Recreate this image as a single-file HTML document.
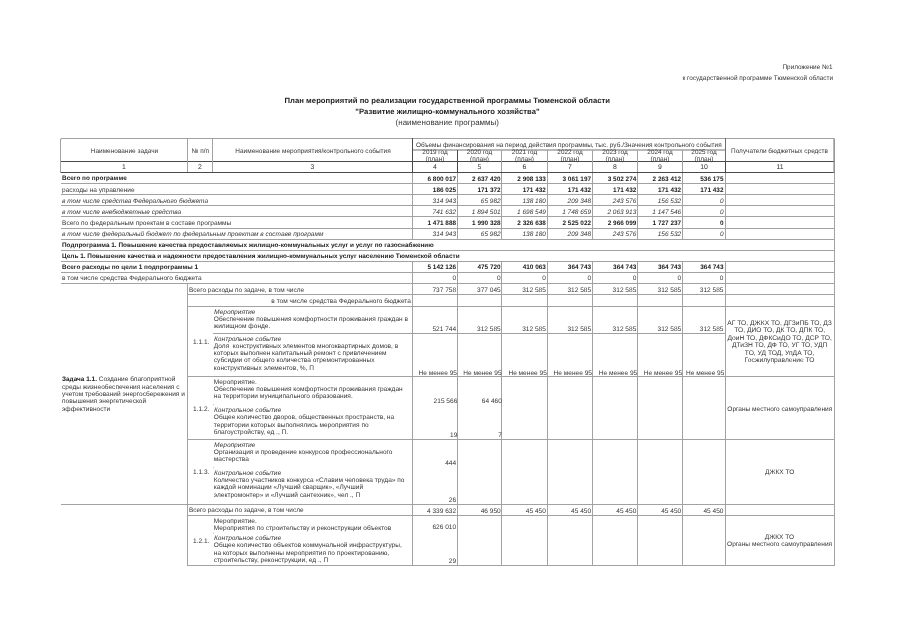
<!DOCTYPE html>
<html lang="ru"><head><meta charset="utf-8"><title>План мероприятий по реализации государственной программы</title>
<style>
html,body{margin:0;padding:0;background:#fff;overflow:hidden;}
body{width:905px;height:640px;position:relative;overflow:hidden;}
#pg{overflow:hidden;text-rendering:geometricPrecision;will-change:transform;position:absolute;left:0;top:0;width:9050px;height:6400px;transform:scale(0.1);transform-origin:0 0;font-family:"Liberation Sans",Arial,sans-serif;color:#353535;}
#pg i{position:absolute;display:block;}
#pg p{position:absolute;margin:0;white-space:pre;line-height:100px;}
.b,b{font-weight:bold;color:#1c1c1c;} .i{font-style:italic;} .o{transform:skewX(-11deg);transform-origin:0 72%;}
b{font-size:64.3px;}
</style></head><body><div id="pg">
<i style="left:610px;top:1380px;width:7730px;height:10px;background:#a2a2a2"></i>
<i style="left:4130px;top:1492px;width:3120px;height:16px;background:#a8a8a8"></i>
<i style="left:600px;top:1610px;width:7749px;height:10px;background:#4a4a4a"></i>
<i style="left:600px;top:1720px;width:7749px;height:10px;background:#4a4a4a"></i>
<i style="left:600px;top:1390px;width:10px;height:340px;background:#a2a2a2"></i>
<i style="left:602px;top:1386px;width:12px;height:12px;background:#a2a2a2"></i>
<i style="left:1870px;top:1390px;width:10px;height:330px;background:#a2a2a2"></i>
<i style="left:2120px;top:1390px;width:10px;height:330px;background:#a2a2a2"></i>
<i style="left:4120px;top:1380px;width:10px;height:350px;background:#4a4a4a"></i>
<i style="left:4570px;top:1500px;width:10px;height:230px;background:#4a4a4a"></i>
<i style="left:5010px;top:1500px;width:10px;height:220px;background:#a2a2a2"></i>
<i style="left:5470px;top:1500px;width:10px;height:220px;background:#a2a2a2"></i>
<i style="left:5920px;top:1500px;width:10px;height:220px;background:#a2a2a2"></i>
<i style="left:6370px;top:1500px;width:10px;height:220px;background:#a2a2a2"></i>
<i style="left:6820px;top:1500px;width:10px;height:220px;background:#a2a2a2"></i>
<i style="left:7250px;top:1380px;width:10px;height:230px;background:#6e6e6e"></i>
<i style="left:7250px;top:1610px;width:10px;height:120px;background:#4a4a4a"></i>
<i style="left:8334px;top:1384px;width:15px;height:346px;background:#8c8c8c"></i>
<p style="top:1455px;font-size:64.7px;left:-755px;width:4000px;text-align:center;">Наименование задачи</p>
<p style="top:1455px;font-size:64.7px;left:3px;width:4000px;text-align:center;">№ п/п</p>
<p style="top:1455px;font-size:64.7px;left:1130px;width:4000px;text-align:center;">Наименование мероприятия/контрольного события</p>
<p style="top:1398px;font-size:64.7px;left:3688px;width:4000px;text-align:center;">Объемы финансирования на период действия программы, тыс. руб./Значения контрольного события</p>
<p style="top:1468px;font-size:64.0px;left:2350px;width:4000px;text-align:center;">2019 год</p>
<p style="top:1540px;font-size:65.6px;left:2350px;width:4000px;text-align:center;">(план)</p>
<p style="top:1468px;font-size:64.0px;left:2795px;width:4000px;text-align:center;">2020 год</p>
<p style="top:1540px;font-size:65.6px;left:2795px;width:4000px;text-align:center;">(план)</p>
<p style="top:1468px;font-size:64.0px;left:3245px;width:4000px;text-align:center;">2021 год</p>
<p style="top:1540px;font-size:65.6px;left:3245px;width:4000px;text-align:center;">(план)</p>
<p style="top:1468px;font-size:64.0px;left:3700px;width:4000px;text-align:center;">2022 год</p>
<p style="top:1540px;font-size:65.6px;left:3700px;width:4000px;text-align:center;">(план)</p>
<p style="top:1468px;font-size:64.0px;left:4150px;width:4000px;text-align:center;">2023 год</p>
<p style="top:1540px;font-size:65.6px;left:4150px;width:4000px;text-align:center;">(план)</p>
<p style="top:1468px;font-size:64.0px;left:4600px;width:4000px;text-align:center;">2024 год</p>
<p style="top:1540px;font-size:65.6px;left:4600px;width:4000px;text-align:center;">(план)</p>
<p style="top:1468px;font-size:64.0px;left:5040px;width:4000px;text-align:center;">2025 год</p>
<p style="top:1540px;font-size:65.6px;left:5040px;width:4000px;text-align:center;">(план)</p>
<p style="top:1454px;font-size:64.5px;left:5795px;width:4000px;text-align:center;">Получатели бюджетных средств</p>
<p style="top:1616px;font-size:69.0px;left:-760px;width:4000px;text-align:center;">1</p>
<p style="top:1616px;font-size:69.0px;left:0px;width:4000px;text-align:center;">2</p>
<p style="top:1616px;font-size:69.0px;left:1125px;width:4000px;text-align:center;">3</p>
<p style="top:1616px;font-size:69.0px;left:2350px;width:4000px;text-align:center;">4</p>
<p style="top:1616px;font-size:69.0px;left:2795px;width:4000px;text-align:center;">5</p>
<p style="top:1616px;font-size:69.0px;left:3245px;width:4000px;text-align:center;">6</p>
<p style="top:1616px;font-size:69.0px;left:3700px;width:4000px;text-align:center;">7</p>
<p style="top:1616px;font-size:69.0px;left:4150px;width:4000px;text-align:center;">8</p>
<p style="top:1616px;font-size:69.0px;left:4600px;width:4000px;text-align:center;">9</p>
<p style="top:1616px;font-size:69.0px;left:5040px;width:4000px;text-align:center;">10</p>
<p style="top:1616px;font-size:69.0px;left:5800px;width:4000px;text-align:center;">11</p>
<i style="left:610px;top:1830px;width:7740px;height:10px;background:#a2a2a2"></i>
<p class="b" style="top:1731px;font-size:64.3px;left:620px;">Всего по программе</p>
<p class="b" style="top:1738px;font-size:64.3px;right:4489px;">6 800 017</p>
<p class="b" style="top:1738px;font-size:64.3px;right:4043px;">2 637 420</p>
<p class="b" style="top:1738px;font-size:64.3px;right:3591px;">2 908 133</p>
<p class="b" style="top:1738px;font-size:64.3px;right:3139px;">3 061 197</p>
<p class="b" style="top:1738px;font-size:64.3px;right:2687px;">3 502 274</p>
<p class="b" style="top:1738px;font-size:64.3px;right:2238px;">2 263 412</p>
<p class="b" style="top:1738px;font-size:64.3px;right:1815px;">536 175</p>
<i style="left:4120px;top:1730px;width:10px;height:100px;background:#a2a2a2"></i>
<i style="left:4570px;top:1730px;width:10px;height:100px;background:#a2a2a2"></i>
<i style="left:5010px;top:1730px;width:10px;height:100px;background:#a2a2a2"></i>
<i style="left:5470px;top:1730px;width:10px;height:100px;background:#a2a2a2"></i>
<i style="left:5920px;top:1730px;width:10px;height:100px;background:#a2a2a2"></i>
<i style="left:6370px;top:1730px;width:10px;height:100px;background:#a2a2a2"></i>
<i style="left:6820px;top:1730px;width:10px;height:100px;background:#a2a2a2"></i>
<i style="left:7250px;top:1730px;width:10px;height:100px;background:#a2a2a2"></i>
<i style="left:8340px;top:1730px;width:10px;height:110px;background:#a2a2a2"></i>
<i style="left:610px;top:1940px;width:7740px;height:10px;background:#a2a2a2"></i>
<p style="top:1848px;font-size:65.6px;left:620px;">расходы на управление</p>
<p class="b" style="top:1848px;font-size:64.3px;right:4489px;">186 025</p>
<p class="b" style="top:1848px;font-size:64.3px;right:4043px;">171 372</p>
<p class="b" style="top:1848px;font-size:64.3px;right:3591px;">171 432</p>
<p class="b" style="top:1848px;font-size:64.3px;right:3139px;">171 432</p>
<p class="b" style="top:1848px;font-size:64.3px;right:2687px;">171 432</p>
<p class="b" style="top:1848px;font-size:64.3px;right:2238px;">171 432</p>
<p class="b" style="top:1848px;font-size:64.3px;right:1815px;">171 432</p>
<i style="left:4120px;top:1840px;width:10px;height:100px;background:#a2a2a2"></i>
<i style="left:4570px;top:1840px;width:10px;height:100px;background:#a2a2a2"></i>
<i style="left:5010px;top:1840px;width:10px;height:100px;background:#a2a2a2"></i>
<i style="left:5470px;top:1840px;width:10px;height:100px;background:#a2a2a2"></i>
<i style="left:5920px;top:1840px;width:10px;height:100px;background:#a2a2a2"></i>
<i style="left:6370px;top:1840px;width:10px;height:100px;background:#a2a2a2"></i>
<i style="left:6820px;top:1840px;width:10px;height:100px;background:#a2a2a2"></i>
<i style="left:7250px;top:1840px;width:10px;height:100px;background:#a2a2a2"></i>
<i style="left:8340px;top:1840px;width:10px;height:110px;background:#a2a2a2"></i>
<i style="left:610px;top:2050px;width:7740px;height:10px;background:#a2a2a2"></i>
<p class="i" style="top:1959px;font-size:65.0px;left:620px;">в том числе средства Федерального бюджета</p>
<p class="i" style="top:1959px;font-size:65.0px;right:4489px;">314 943</p>
<p class="i" style="top:1959px;font-size:65.0px;right:4043px;">65 982</p>
<p class="i" style="top:1959px;font-size:65.0px;right:3591px;">138 180</p>
<p class="i" style="top:1959px;font-size:65.0px;right:3139px;">209 348</p>
<p class="i" style="top:1959px;font-size:65.0px;right:2687px;">243 576</p>
<p class="i" style="top:1959px;font-size:65.0px;right:2238px;">156 532</p>
<p class="i" style="top:1959px;font-size:65.0px;right:1815px;">0</p>
<i style="left:4120px;top:1950px;width:10px;height:100px;background:#a2a2a2"></i>
<i style="left:4570px;top:1950px;width:10px;height:100px;background:#a2a2a2"></i>
<i style="left:5010px;top:1950px;width:10px;height:100px;background:#a2a2a2"></i>
<i style="left:5470px;top:1950px;width:10px;height:100px;background:#a2a2a2"></i>
<i style="left:5920px;top:1950px;width:10px;height:100px;background:#a2a2a2"></i>
<i style="left:6370px;top:1950px;width:10px;height:100px;background:#a2a2a2"></i>
<i style="left:6820px;top:1950px;width:10px;height:100px;background:#a2a2a2"></i>
<i style="left:7250px;top:1950px;width:10px;height:100px;background:#a2a2a2"></i>
<i style="left:8340px;top:1950px;width:10px;height:110px;background:#a2a2a2"></i>
<i style="left:610px;top:2160px;width:7740px;height:10px;background:#a2a2a2"></i>
<p class="i" style="top:2069px;font-size:65.0px;left:620px;">в том числе внебюджетные средства</p>
<p class="i" style="top:2069px;font-size:65.0px;right:4489px;">741 632</p>
<p class="i" style="top:2069px;font-size:65.0px;right:4043px;">1 894 501</p>
<p class="i" style="top:2069px;font-size:65.0px;right:3591px;">1 698 549</p>
<p class="i" style="top:2069px;font-size:65.0px;right:3139px;">1 748 659</p>
<p class="i" style="top:2069px;font-size:65.0px;right:2687px;">2 063 913</p>
<p class="i" style="top:2069px;font-size:65.0px;right:2238px;">1 147 546</p>
<p class="i" style="top:2069px;font-size:65.0px;right:1815px;">0</p>
<i style="left:4120px;top:2060px;width:10px;height:100px;background:#a2a2a2"></i>
<i style="left:4570px;top:2060px;width:10px;height:100px;background:#a2a2a2"></i>
<i style="left:5010px;top:2060px;width:10px;height:100px;background:#a2a2a2"></i>
<i style="left:5470px;top:2060px;width:10px;height:100px;background:#a2a2a2"></i>
<i style="left:5920px;top:2060px;width:10px;height:100px;background:#a2a2a2"></i>
<i style="left:6370px;top:2060px;width:10px;height:100px;background:#a2a2a2"></i>
<i style="left:6820px;top:2060px;width:10px;height:100px;background:#a2a2a2"></i>
<i style="left:7250px;top:2060px;width:10px;height:100px;background:#a2a2a2"></i>
<i style="left:8340px;top:2060px;width:10px;height:110px;background:#a2a2a2"></i>
<i style="left:610px;top:2280px;width:7740px;height:10px;background:#a2a2a2"></i>
<p style="top:2179px;font-size:65.6px;left:620px;">Всего по федеральным проектам в составе программы</p>
<p class="b" style="top:2180px;font-size:64.3px;right:4489px;">1 471 888</p>
<p class="b" style="top:2180px;font-size:64.3px;right:4043px;">1 990 328</p>
<p class="b" style="top:2180px;font-size:64.3px;right:3591px;">2 326 638</p>
<p class="b" style="top:2180px;font-size:64.3px;right:3139px;">2 525 022</p>
<p class="b" style="top:2180px;font-size:64.3px;right:2687px;">2 966 099</p>
<p class="b" style="top:2180px;font-size:64.3px;right:2238px;">1 727 237</p>
<p class="b" style="top:2180px;font-size:64.3px;right:1815px;">0</p>
<i style="left:4120px;top:2170px;width:10px;height:110px;background:#a2a2a2"></i>
<i style="left:4570px;top:2170px;width:10px;height:110px;background:#a2a2a2"></i>
<i style="left:5010px;top:2170px;width:10px;height:110px;background:#a2a2a2"></i>
<i style="left:5470px;top:2170px;width:10px;height:110px;background:#a2a2a2"></i>
<i style="left:5920px;top:2170px;width:10px;height:110px;background:#a2a2a2"></i>
<i style="left:6370px;top:2170px;width:10px;height:110px;background:#a2a2a2"></i>
<i style="left:6820px;top:2170px;width:10px;height:110px;background:#a2a2a2"></i>
<i style="left:7250px;top:2170px;width:10px;height:110px;background:#a2a2a2"></i>
<i style="left:8340px;top:2170px;width:10px;height:120px;background:#a2a2a2"></i>
<i style="left:610px;top:2390px;width:7740px;height:10px;background:#a2a2a2"></i>
<p class="i" style="top:2290px;font-size:65.0px;left:620px;">в том числе федеральный бюджет по федеральным проектам в составе программ</p>
<p class="i" style="top:2290px;font-size:65.0px;right:4489px;">314 943</p>
<p class="i" style="top:2290px;font-size:65.0px;right:4043px;">65 982</p>
<p class="i" style="top:2290px;font-size:65.0px;right:3591px;">138 180</p>
<p class="i" style="top:2290px;font-size:65.0px;right:3139px;">209 348</p>
<p class="i" style="top:2290px;font-size:65.0px;right:2687px;">243 576</p>
<p class="i" style="top:2290px;font-size:65.0px;right:2238px;">156 532</p>
<p class="i" style="top:2290px;font-size:65.0px;right:1815px;">0</p>
<i style="left:4120px;top:2290px;width:10px;height:100px;background:#a2a2a2"></i>
<i style="left:4570px;top:2290px;width:10px;height:100px;background:#a2a2a2"></i>
<i style="left:5010px;top:2290px;width:10px;height:100px;background:#a2a2a2"></i>
<i style="left:5470px;top:2290px;width:10px;height:100px;background:#a2a2a2"></i>
<i style="left:5920px;top:2290px;width:10px;height:100px;background:#a2a2a2"></i>
<i style="left:6370px;top:2290px;width:10px;height:100px;background:#a2a2a2"></i>
<i style="left:6820px;top:2290px;width:10px;height:100px;background:#a2a2a2"></i>
<i style="left:7250px;top:2290px;width:10px;height:100px;background:#a2a2a2"></i>
<i style="left:8340px;top:2290px;width:10px;height:110px;background:#a2a2a2"></i>
<i style="left:610px;top:2500px;width:7740px;height:10px;background:#a2a2a2"></i>
<p class="b" style="top:2401px;font-size:64.3px;left:620px;">Подпрограмма 1. Повышение качества предоставляемых жилищно-коммунальных услуг и услуг по газоснабжению</p>
<i style="left:8340px;top:2400px;width:10px;height:110px;background:#a2a2a2"></i>
<i style="left:610px;top:2610px;width:7740px;height:10px;background:#a2a2a2"></i>
<p class="b" style="top:2512px;font-size:64.3px;left:620px;">Цель 1. Повышение качества и надежности предоставления жилищно-коммунальных услуг населению Тюменской области</p>
<i style="left:8340px;top:2510px;width:10px;height:110px;background:#a2a2a2"></i>
<i style="left:610px;top:2720px;width:7740px;height:10px;background:#a2a2a2"></i>
<p class="b" style="top:2622px;font-size:64.3px;left:620px;">Всего расходы по цели 1 подпрограммы 1</p>
<p class="b" style="top:2622px;font-size:64.3px;right:4489px;">5 142 126</p>
<p class="b" style="top:2622px;font-size:64.3px;right:4043px;">475 720</p>
<p class="b" style="top:2622px;font-size:64.3px;right:3591px;">410 063</p>
<p class="b" style="top:2622px;font-size:64.3px;right:3139px;">364 743</p>
<p class="b" style="top:2622px;font-size:64.3px;right:2687px;">364 743</p>
<p class="b" style="top:2622px;font-size:64.3px;right:2238px;">364 743</p>
<p class="b" style="top:2622px;font-size:64.3px;right:1815px;">364 743</p>
<i style="left:4120px;top:2620px;width:10px;height:100px;background:#a2a2a2"></i>
<i style="left:4570px;top:2620px;width:10px;height:100px;background:#a2a2a2"></i>
<i style="left:5010px;top:2620px;width:10px;height:100px;background:#a2a2a2"></i>
<i style="left:5470px;top:2620px;width:10px;height:100px;background:#a2a2a2"></i>
<i style="left:5920px;top:2620px;width:10px;height:100px;background:#a2a2a2"></i>
<i style="left:6370px;top:2620px;width:10px;height:100px;background:#a2a2a2"></i>
<i style="left:6820px;top:2620px;width:10px;height:100px;background:#a2a2a2"></i>
<i style="left:7250px;top:2620px;width:10px;height:100px;background:#a2a2a2"></i>
<i style="left:8340px;top:2620px;width:10px;height:110px;background:#a2a2a2"></i>
<i style="left:610px;top:2830px;width:7740px;height:10px;background:#a2a2a2"></i>
<p style="top:2732px;font-size:65.6px;left:620px;">в том числе средства Федерального бюджета</p>
<p style="top:2732px;font-size:65.6px;right:4489px;">0</p>
<p style="top:2732px;font-size:65.6px;right:4043px;">0</p>
<p style="top:2732px;font-size:65.6px;right:3591px;">0</p>
<p style="top:2732px;font-size:65.6px;right:3139px;">0</p>
<p style="top:2732px;font-size:65.6px;right:2687px;">0</p>
<p style="top:2732px;font-size:65.6px;right:2238px;">0</p>
<p style="top:2732px;font-size:65.6px;right:1815px;">0</p>
<i style="left:4120px;top:2730px;width:10px;height:100px;background:#a2a2a2"></i>
<i style="left:4570px;top:2730px;width:10px;height:100px;background:#a2a2a2"></i>
<i style="left:5010px;top:2730px;width:10px;height:100px;background:#a2a2a2"></i>
<i style="left:5470px;top:2730px;width:10px;height:100px;background:#a2a2a2"></i>
<i style="left:5920px;top:2730px;width:10px;height:100px;background:#a2a2a2"></i>
<i style="left:6370px;top:2730px;width:10px;height:100px;background:#a2a2a2"></i>
<i style="left:6820px;top:2730px;width:10px;height:100px;background:#a2a2a2"></i>
<i style="left:7250px;top:2730px;width:10px;height:100px;background:#a2a2a2"></i>
<i style="left:8340px;top:2730px;width:10px;height:110px;background:#a2a2a2"></i>
<i style="left:1870px;top:2940px;width:6480px;height:10px;background:#a2a2a2"></i>
<i style="left:1870px;top:3060px;width:6480px;height:10px;background:#a2a2a2"></i>
<i style="left:1870px;top:3760px;width:6480px;height:10px;background:#a2a2a2"></i>
<i style="left:1870px;top:4390px;width:6480px;height:10px;background:#a2a2a2"></i>
<i style="left:1870px;top:5150px;width:6480px;height:10px;background:#a2a2a2"></i>
<i style="left:1870px;top:5650px;width:6480px;height:10px;background:#a2a2a2"></i>
<i style="left:2130px;top:3330px;width:5120px;height:10px;background:#a2a2a2"></i>
<i style="left:610px;top:5040px;width:7740px;height:10px;background:#a2a2a2"></i>
<i style="left:1870px;top:2840px;width:10px;height:2820px;background:#a2a2a2"></i>
<i style="left:4120px;top:2840px;width:10px;height:2820px;background:#a2a2a2"></i>
<i style="left:4570px;top:2840px;width:10px;height:2820px;background:#a2a2a2"></i>
<i style="left:5010px;top:2840px;width:10px;height:2820px;background:#a2a2a2"></i>
<i style="left:5470px;top:2840px;width:10px;height:2820px;background:#a2a2a2"></i>
<i style="left:5920px;top:2840px;width:10px;height:2820px;background:#a2a2a2"></i>
<i style="left:6370px;top:2840px;width:10px;height:2820px;background:#a2a2a2"></i>
<i style="left:6820px;top:2840px;width:10px;height:2820px;background:#a2a2a2"></i>
<i style="left:7250px;top:2840px;width:10px;height:2820px;background:#a2a2a2"></i>
<i style="left:8340px;top:2840px;width:10px;height:2820px;background:#a2a2a2"></i>
<p style="top:2850px;font-size:64.8px;left:1890px;">Всего расходы по задаче, в том числе</p>
<p style="top:2850px;font-size:65.6px;right:4489px;">737 758</p>
<p style="top:2850px;font-size:65.6px;right:4043px;">377 045</p>
<p style="top:2850px;font-size:65.6px;right:3591px;">312 585</p>
<p style="top:2850px;font-size:65.6px;right:3139px;">312 585</p>
<p style="top:2850px;font-size:65.6px;right:2687px;">312 585</p>
<p style="top:2850px;font-size:65.6px;right:2238px;">312 585</p>
<p style="top:2850px;font-size:65.6px;right:1815px;">312 585</p>
<p style="top:2959px;font-size:65.6px;right:4941px;">в том числе средства Федерального бюджета</p>
<p style="top:5050px;font-size:64.5px;left:1890px;">Всего расходы по задаче, в том числе</p>
<p style="top:5056px;font-size:65.6px;right:4489px;">4 339 632</p>
<p style="top:5056px;font-size:65.6px;right:4043px;">46 950</p>
<p style="top:5056px;font-size:65.6px;right:3591px;">45 450</p>
<p style="top:5056px;font-size:65.6px;right:3139px;">45 450</p>
<p style="top:5056px;font-size:65.6px;right:2687px;">45 450</p>
<p style="top:5056px;font-size:65.6px;right:2238px;">45 450</p>
<p style="top:5056px;font-size:65.6px;right:1815px;">45 450</p>
<p style="top:3365px;font-size:65.6px;left:1930px;">1.1.1.</p>
<p class="o" style="top:3065px;font-size:65.6px;left:2138px;">Мероприятие</p>
<p style="top:3136px;font-size:65.6px;left:2138px;">Обеспечение повышения комфортности проживания граждан в</p>
<p style="top:3207px;font-size:65.6px;left:2138px;">жилищном фонде.</p>
<p class="o" style="top:3335px;font-size:65.6px;left:2138px;">Контрольное событие</p>
<p style="top:3410px;font-size:65.6px;left:2138px;">Доля  конструктивных элементов многоквартирных домов, в</p>
<p style="top:3481px;font-size:65.6px;left:2138px;">которых выполнен капитальный ремонт с привлечением</p>
<p style="top:3552px;font-size:65.6px;left:2138px;">субсидии от общего количества отремонтированных</p>
<p style="top:3623px;font-size:65.6px;left:2138px;">конструктивных элементов, %, П</p>
<p style="top:3240px;font-size:65.6px;right:4489px;">521 744</p>
<p style="top:3240px;font-size:65.6px;right:4043px;">312 585</p>
<p style="top:3240px;font-size:65.6px;right:3591px;">312 585</p>
<p style="top:3240px;font-size:65.6px;right:3139px;">312 585</p>
<p style="top:3240px;font-size:65.6px;right:2687px;">312 585</p>
<p style="top:3240px;font-size:65.6px;right:2238px;">312 585</p>
<p style="top:3240px;font-size:65.6px;right:1815px;">312 585</p>
<p style="top:3678px;font-size:65.6px;right:4480px;">Не менее 95</p>
<p style="top:3678px;font-size:65.6px;right:4034px;">Не менее 95</p>
<p style="top:3678px;font-size:65.6px;right:3582px;">Не менее 95</p>
<p style="top:3678px;font-size:65.6px;right:3130px;">Не менее 95</p>
<p style="top:3678px;font-size:65.6px;right:2678px;">Не менее 95</p>
<p style="top:3678px;font-size:65.6px;right:2229px;">Не менее 95</p>
<p style="top:3678px;font-size:65.6px;right:1806px;">Не менее 95</p>
<p style="top:3178px;font-size:67.0px;left:5796px;width:4000px;text-align:center;">АГ ТО, ДЖКХ ТО, ДГЗиПБ ТО, ДЗ</p>
<p style="top:3252px;font-size:67.0px;left:5796px;width:4000px;text-align:center;">ТО, ДИО ТО, ДК ТО, ДПК ТО,</p>
<p style="top:3326px;font-size:67.0px;left:5796px;width:4000px;text-align:center;">ДоиН ТО, ДФКСиДО ТО, ДСР ТО,</p>
<p style="top:3400px;font-size:67.0px;left:5796px;width:4000px;text-align:center;">ДТиЗН ТО, ДФ ТО, УГ ТО, УДП</p>
<p style="top:3474px;font-size:67.0px;left:5796px;width:4000px;text-align:center;">ТО, УД ТОД, УпДА ТО,</p>
<p style="top:3547px;font-size:67.0px;left:5796px;width:4000px;text-align:center;">Госжилуправление ТО</p>
<p style="top:4035px;font-size:65.6px;left:1930px;">1.1.2.</p>
<p style="top:3763px;font-size:65.6px;left:2138px;">Мероприятие.</p>
<p style="top:3834px;font-size:65.6px;left:2138px;">Обеспечение повышения комфортности проживания граждан</p>
<p style="top:3905px;font-size:65.6px;left:2138px;">на территории муниципального образования.</p>
<p class="o" style="top:4048px;font-size:65.6px;left:2138px;">Контрольное событие</p>
<p style="top:4121px;font-size:65.6px;left:2138px;">Общее количество дворов, общественных пространств, на</p>
<p style="top:4194px;font-size:65.6px;left:2138px;">территории которых выполнялись мероприятия по</p>
<p style="top:4267px;font-size:65.6px;left:2138px;">благоустройству, ед ., П.</p>
<p style="top:3957px;font-size:65.6px;right:4477px;">215 566</p>
<p style="top:3957px;font-size:65.6px;right:4031px;">64 460</p>
<p style="top:4297px;font-size:65.6px;right:4477px;">19</p>
<p style="top:4297px;font-size:65.6px;right:4031px;">7</p>
<p style="top:4033px;font-size:65.6px;left:5798px;width:4000px;text-align:center;">Органы местного самоуправления</p>
<p style="top:4665px;font-size:65.6px;left:1930px;">1.1.3.</p>
<p class="o" style="top:4393px;font-size:65.6px;left:2138px;">Мероприятие</p>
<p style="top:4466px;font-size:65.6px;left:2138px;">Организация и проведение конкурсов профессионального</p>
<p style="top:4538px;font-size:65.6px;left:2138px;">мастерства</p>
<p class="o" style="top:4677px;font-size:65.6px;left:2138px;">Контрольное событие</p>
<p style="top:4750px;font-size:65.6px;left:2138px;">Количество участников конкурса «Славим человека труда» по</p>
<p style="top:4821px;font-size:65.6px;left:2138px;">каждой номинации «Лучший сварщик», «Лучший</p>
<p style="top:4893px;font-size:65.6px;left:2138px;">электромонтер» и «Лучший сантехник», чел ., П</p>
<p style="top:4580px;font-size:65.6px;right:4489px;">444</p>
<p style="top:4948px;font-size:65.6px;right:4489px;">26</p>
<p style="top:4664px;font-size:65.6px;left:5797px;width:4000px;text-align:center;">ДЖКХ ТО</p>
<p style="top:5354px;font-size:65.6px;left:1930px;">1.2.1.</p>
<p style="top:5155px;font-size:65.6px;left:2138px;">Мероприятие.</p>
<p style="top:5228px;font-size:65.6px;left:2138px;">Мероприятия по строительству и реконструкции объектов</p>
<p class="o" style="top:5324px;font-size:65.6px;left:2138px;">Контрольное событие</p>
<p style="top:5401px;font-size:65.6px;left:2138px;">Общее количество объектов коммунальной инфраструктуры,</p>
<p style="top:5474px;font-size:65.6px;left:2138px;">на которых выполнены мероприятия по проектированию,</p>
<p style="top:5547px;font-size:65.6px;left:2138px;">строительству, реконструкции, ед ., П</p>
<p style="top:5220px;font-size:65.6px;right:4489px;">626 010</p>
<p style="top:5559px;font-size:65.6px;right:4489px;">29</p>
<p style="top:5316px;font-size:65.6px;left:5794px;width:4000px;text-align:center;">ДЖКХ ТО</p>
<p style="top:5391px;font-size:65.6px;left:5796px;width:4000px;text-align:center;">Органы местного самоуправления</p>
<i style="left:2132px;top:4040px;width:5px;height:12px;background:#888"></i>
<i style="left:2132px;top:4670px;width:5px;height:12px;background:#888"></i>
<i style="left:2132px;top:5325px;width:5px;height:12px;background:#888"></i>
<p style="top:3741px;font-size:65.6px;left:620px;"><b>Задача 1.1.</b> Создание благоприятной</p>
<p style="top:3814px;font-size:65.6px;left:620px;">среды жизнеобеспечения населения с</p>
<p style="top:3887px;font-size:65.6px;left:620px;">учетом требований энергосбережения и</p>
<p style="top:3960px;font-size:65.6px;left:620px;">повышения энергетической</p>
<p style="top:4033px;font-size:65.6px;left:620px;">эффективности</p>
<p style="top:615px;font-size:64.6px;right:724px;">Приложение №1</p>
<p style="top:731px;font-size:64.6px;right:719px;">к государственной программе Тюменской области</p>
<p class="b T" style="top:955px;font-size:77.3px;left:2473px;width:4000px;text-align:center;">План мероприятий по реализации государственной программы Тюменской области</p>
<p class="b T" style="top:1065px;font-size:77.3px;left:2475px;width:4000px;text-align:center;">"Развитие жилищно-коммунального хозяйства"</p>
<p style="top:1177px;font-size:80.0px;left:2473px;width:4000px;text-align:center;">(наименование программы)</p>
</div></body></html>
